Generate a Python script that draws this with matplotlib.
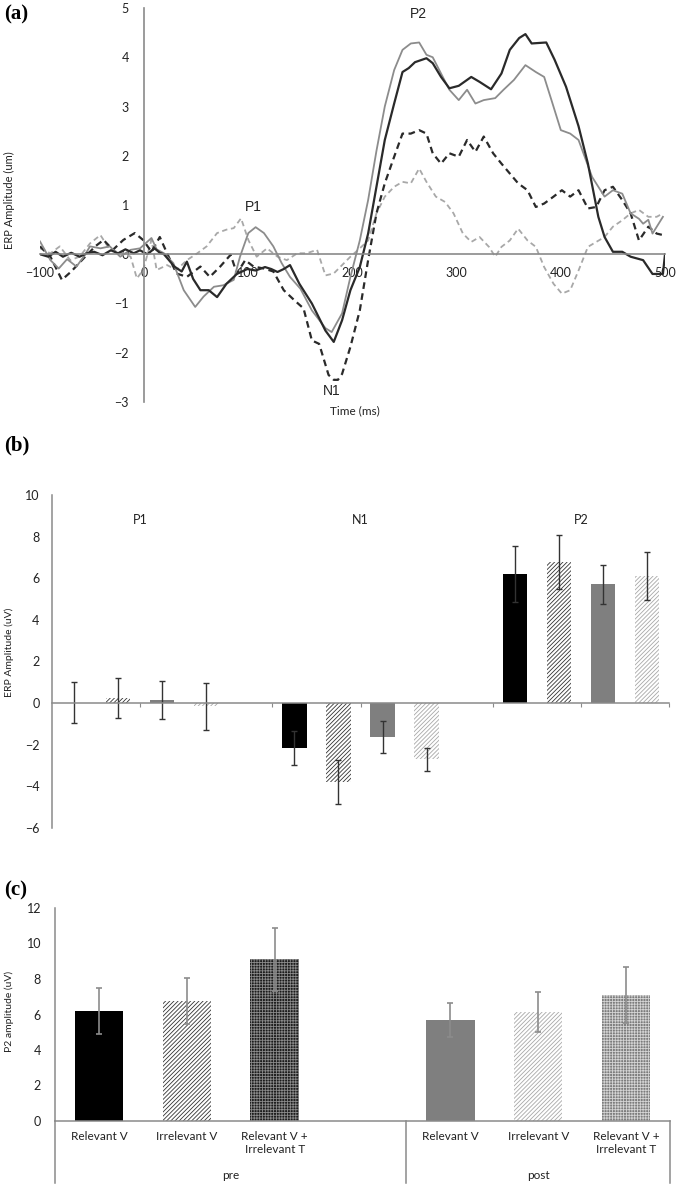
import matplotlib
matplotlib.use('Agg')
import matplotlib.pyplot as plt
from matplotlib.transforms import blended_transform_factory

# ---- panel (a): grand-average ERP waveforms (time in ms, amplitude) ----
dark_solid_t = [-100, -92, -85, -78, -70, -62, -55, -48, -40, -32, -25, -18, -10, -4, 3, 10, 15, 19,
                29, 36, 41, 47, 54, 62, 70, 79, 89, 99, 107, 116, 122, 128, 134, 140, 149, 161, 174,
                182, 190, 198, 207, 215, 223, 231, 240, 248, 254, 260, 271, 277, 285, 293, 302, 314,
                322, 333, 343, 351, 360, 366, 372, 386, 394, 405, 417, 426, 436, 442, 450, 459, 467,
                479, 488, 498, 500]
dark_solid_v = [0.0, -0.05, 0.05, -0.05, 0.03, -0.05, 0.02, 0.05, -0.02, 0.08, 0.02, 0.1, 0.02, 0.08,
                0.0, 0.12, 0.03, 0.0, -0.25, -0.35, -0.15, -0.5, -0.73, -0.73, -0.87, -0.6, -0.4, -0.3,
                -0.33, -0.26, -0.3, -0.36, -0.3, -0.22, -0.6, -1.0, -1.55, -1.78, -1.34, -0.73, -0.26,
                0.42, 1.37, 2.32, 3.06, 3.7, 3.78, 3.9, 3.98, 3.88, 3.6, 3.37, 3.42, 3.6, 3.5, 3.35,
                3.67, 4.15, 4.39, 4.47, 4.28, 4.3, 3.95, 3.4, 2.6, 1.84, 0.76, 0.35, 0.05, 0.05, -0.05,
                -0.12, -0.4, -0.4, 0.0]

gray_solid_t = [-100, -90, -82, -74, -65, -58, -52, -42, -33, -23, -13, -4, 7, 12, 19, 28, 38, 49, 57,
                67, 76, 86, 92, 100, 107, 115, 124, 132, 140, 150, 161, 174, 180, 190, 198, 207, 215,
                223, 231, 240, 248, 256, 264, 271, 277, 285, 293, 302, 310, 318, 326, 337, 345, 355,
                366, 376, 384, 391, 400, 409, 417, 430, 442, 450, 459, 467, 475, 479, 484, 488, 498]
gray_solid_v = [0.26, -0.12, -0.29, -0.1, -0.25, -0.05, 0.16, 0.12, 0.16, -0.05, 0.09, 0.12, 0.33, 0.1,
                0.02, -0.18, -0.73, -1.07, -0.86, -0.66, -0.63, -0.52, -0.05, 0.43, 0.55, 0.43, 0.16,
                -0.18, -0.46, -0.7, -1.14, -1.5, -1.58, -1.2, -0.46, 0.28, 1.1, 2.1, 3.0, 3.74, 4.15,
                4.28, 4.3, 4.05, 4.0, 3.67, 3.34, 3.13, 3.34, 3.06, 3.13, 3.17, 3.34, 3.54, 3.84, 3.7,
                3.6, 3.13, 2.52, 2.45, 2.32, 1.57, 1.17, 1.3, 1.23, 0.83, 0.72, 0.62, 0.7, 0.42, 0.76]

dark_dash_t = [-100, -90, -79, -70, -58, -47, -39, -30, -20, -9, -1, 7, 15, 22, 31, 41, 54, 63, 73, 83,
               89, 97, 105, 115, 124, 134, 144, 153, 161, 168, 177, 182, 186, 190, 198, 207, 215, 223,
               231, 240, 248, 256, 264, 271, 277, 285, 293, 302, 310, 318, 326, 335, 343, 351, 359,
               368, 376, 384, 393, 401, 409, 417, 426, 434, 442, 450, 459, 467, 475, 484, 492, 498]
dark_dash_v = [0.16, -0.05, -0.52, -0.35, -0.08, 0.16, 0.29, 0.09, 0.29, 0.43, 0.29, 0.05, 0.35, 0.02,
               -0.39, -0.46, -0.25, -0.46, -0.25, -0.01, -0.39, -0.12, -0.25, -0.29, -0.35, -0.73,
               -0.93, -1.1, -1.75, -1.82, -2.45, -2.55, -2.55, -2.43, -1.88, -1.14, -0.12, 0.83, 1.44,
               1.98, 2.45, 2.45, 2.52, 2.45, 2.05, 1.84, 2.05, 1.98, 2.32, 2.08, 2.39, 2.05, 1.84,
               1.64, 1.44, 1.3, 0.96, 1.03, 1.17, 1.3, 1.17, 1.3, 0.93, 0.96, 1.3, 1.37, 1.1, 0.83,
               0.28, 0.56, 0.42, 0.39]

light_dash_t = [-100, -90, -81, -71, -62, -52, -42, -33, -23, -13, -7, -1, 7, 12, 22, 31, 41, 51, 60,
                70, 79, 86, 93, 100, 108, 118, 128, 137, 147, 156, 166, 174, 182, 190, 198, 207, 215,
                223, 231, 240, 248, 256, 264, 271, 280, 289, 297, 306, 314, 322, 331, 337, 343, 351,
                359, 368, 376, 384, 393, 401, 409, 417, 426, 434, 442, 450, 459, 467, 475, 484, 492, 498]
light_dash_v = [0.12, 0.02, 0.16, -0.12, -0.05, 0.22, 0.39, 0.09, 0.05, -0.05, -0.49, -0.32, 0.29,
                -0.32, -0.22, -0.32, -0.12, 0.02, 0.16, 0.43, 0.5, 0.53, 0.73, 0.29, -0.05, 0.12,
                -0.05, -0.12, 0.02, 0.02, 0.09, -0.43, -0.39, -0.22, -0.05, 0.12, 0.28, 0.83, 1.17,
                1.37, 1.47, 1.44, 1.74, 1.47, 1.17, 1.06, 0.83, 0.42, 0.25, 0.35, 0.15, -0.05, 0.15,
                0.28, 0.52, 0.28, 0.15, -0.26, -0.6, -0.8, -0.73, -0.33, 0.15, 0.25, 0.35, 0.56, 0.69,
                0.83, 0.9, 0.76, 0.76, 0.83]

# ---- panel (b): component amplitudes ----
components = ['P1', 'N1', 'P2']
rel_pre = [0.03, -2.15, 6.2]
rel_pre_err = [0.99, 0.8, 1.33]
irr_pre = [0.25, -3.8, 6.77]
irr_pre_err = [0.96, 1.05, 1.3]
rel_post = [0.15, -1.62, 5.7]
rel_post_err = [0.9, 0.78, 0.94]
irr_post = [-0.15, -2.7, 6.12]
irr_post_err = [1.12, 0.56, 1.15]

# ---- panel (c): P2 amplitude by condition ----
conditions = ['Relevant V', 'Irrelevant V', 'Relevant V +\nIrrelevant T']
p2_pre = [6.2, 6.77, 9.1]
p2_pre_err = [1.32, 1.3, 1.75]
p2_post = [5.7, 6.12, 7.12]
p2_post_err = [0.95, 1.13, 1.58]
sessions = ['pre', 'post']

W, H = 685, 1184
plt.rcParams['font.family'] = ['Lato', 'DejaVu Sans']
plt.rcParams['hatch.linewidth'] = 0.6
AXC = '#8a8a8a'
TXT = '#222222'


def rect(x0, y_top, x1, y_bot):
    return [x0 / W, 1 - y_bot / H, (x1 - x0) / W, (y_bot - y_top) / H]


def ftext(x, y, s, **kw):
    fig.text(x / W, 1 - y / H, s, **kw)


fig = plt.figure(figsize=(W / 100, H / 100), dpi=100)

# ------------------------------------------------------------------ (a)
ax = fig.add_axes(rect(40, 8, 665, 402))
ax.plot(light_dash_t, light_dash_v, color='#a8a8a8', lw=1.3, ls=(0, (3, 2)))
ax.plot(dark_dash_t, dark_dash_v, color='#2a2a2a', lw=1.6, ls=(0, (3, 2)))
ax.plot(gray_solid_t, gray_solid_v, color='#8c8c8c', lw=1.3)
ax.plot(dark_solid_t, dark_solid_v, color='#2a2a2a', lw=1.6)
ax.set_xlim(-100, 500)
ax.set_ylim(-3, 5)
for s in ['top', 'right']:
    ax.spines[s].set_visible(False)
ax.spines['left'].set_position(('data', 0))
ax.spines['bottom'].set_position(('data', 0))
for s in ['left', 'bottom']:
    ax.spines[s].set_color(AXC)
    ax.spines[s].set_linewidth(1.2)
ax.set_xticks(range(-100, 501, 100))
ax.set_yticks(range(-3, 6))
ax.tick_params(axis='x', length=0, pad=9, labelsize=9, colors=TXT)
ax.tick_params(axis='y', length=0, pad=11, labelsize=9, colors=TXT)
for lbl, (tx, ty) in zip(['P1', 'N1', 'P2'], [(105, 0.95), (180, -2.78), (263, 4.88)]):
    ax.text(tx, ty, lbl, fontsize=10, family='Liberation Sans', ha='center', va='center',
            color=TXT)
ftext(355, 411, 'Time (ms)', fontsize=8.5, ha='center', va='center', color=TXT)
ftext(9, 200, 'ERP Amplitude (um)', fontsize=8, rotation=90, ha='center', va='center',
      color=TXT)
ftext(4, 14, '(a)', fontsize=15, family='Liberation Serif', weight='bold', va='center')

# ------------------------------------------------------------------ (b)
ax = fig.add_axes(rect(52, 495, 669, 828))
styles = [
    (rel_pre, rel_pre_err, dict(color='black')),
    (irr_pre, irr_pre_err, dict(facecolor='white', edgecolor='#333333', hatch='////////', lw=0)),
    (rel_post, rel_post_err, dict(color='#7f7f7f')),
    (irr_post, irr_post_err, dict(facecolor='white', edgecolor='#a8a8a8', hatch='////////', lw=0)),
]
for k, (vals, errs, st) in enumerate(styles):
    pos = [g * 5 + k for g in range(len(components))]
    ax.bar(pos, vals, width=0.55, **st)
    ax.errorbar(pos, vals, yerr=errs, fmt='none', ecolor='#333333', elinewidth=1,
                capsize=2, capthick=1)
ax.set_xlim(-0.5, 13.5)
ax.set_ylim(-6, 10)
for s in ['top', 'right']:
    ax.spines[s].set_visible(False)
ax.spines['bottom'].set_position(('data', 0))
for s in ['left', 'bottom']:
    ax.spines[s].set_color(AXC)
    ax.spines[s].set_linewidth(1.1)
ax.set_yticks(range(-6, 11, 2))
ax.set_xticks([1.5, 4.5, 6.5, 9.5, 11.5, 13.5])
ax.set_xticklabels([])
ax.tick_params(axis='x', length=3, direction='out', color=AXC)
ax.tick_params(axis='y', length=0, pad=9, labelsize=9, colors=TXT)
for g, lbl in enumerate(components):
    ax.text(g * 5 + 1.5, 8.8, lbl, fontsize=9, ha='center', va='center', color=TXT)
ftext(9, 652, 'ERP Amplitude (uV)', fontsize=7.5, rotation=90, ha='center', va='center',
      color=TXT)
ftext(4, 445, '(b)', fontsize=15, family='Liberation Serif', weight='bold', va='center')

# ------------------------------------------------------------------ (c)
ax = fig.add_axes(rect(55, 908, 670, 1121))
c_styles = [
    [dict(color='black'),
     dict(facecolor='white', edgecolor='#333333', hatch='////////', lw=0),
     dict(facecolor='#1c1c1c', edgecolor='#8a8a8a', hatch='++++++', lw=0)],
    [dict(color='#7f7f7f'),
     dict(facecolor='white', edgecolor='#a8a8a8', hatch='////////', lw=0),
     dict(facecolor='#7c7c7c', edgecolor='#d4d4d4', hatch='++++++', lw=0)],
]
for si, (vals, errs) in enumerate([(p2_pre, p2_pre_err), (p2_post, p2_post_err)]):
    for ci in range(len(conditions)):
        x = si * 4 + ci
        ax.bar(x, vals[ci], width=0.55, **c_styles[si][ci])
        ax.errorbar(x, vals[ci], yerr=errs[ci], fmt='none', ecolor='#8c8c8c',
                    elinewidth=1.2, capsize=2.5, capthick=1.2)
ax.set_xlim(-0.5, 6.5)
ax.set_ylim(0, 12)
for s in ['top', 'right']:
    ax.spines[s].set_visible(False)
for s in ['left', 'bottom']:
    ax.spines[s].set_color(AXC)
    ax.spines[s].set_linewidth(1.1)
ax.set_yticks(range(0, 13, 2))
ax.set_xticks([0, 1, 2, 4, 5, 6])
ax.set_xticklabels(conditions + conditions, fontsize=8.5, color=TXT, linespacing=1.3)
ax.tick_params(axis='x', length=0, pad=7)
ax.tick_params(axis='y', length=0, pad=10, labelsize=9, colors=TXT)
tr = blended_transform_factory(ax.transData, ax.transAxes)
for xd in [-0.5, 3.5, 6.5]:
    ax.plot([xd, xd], [0, -0.29], color=AXC, lw=1.1, transform=tr, clip_on=False)
for xd, lbl in zip([1.5, 5.0], sessions):
    ax.text(xd, -0.258, lbl, transform=tr, fontsize=8.5, ha='center', va='center', color=TXT)
ftext(9, 1011, 'P2 amplitude (uV)', fontsize=7.5, rotation=90, ha='center', va='center',
      color=TXT)
ftext(4, 890, '(c)', fontsize=15, family='Liberation Serif', weight='bold', va='center')

fig.savefig('out.png', dpi=100)
